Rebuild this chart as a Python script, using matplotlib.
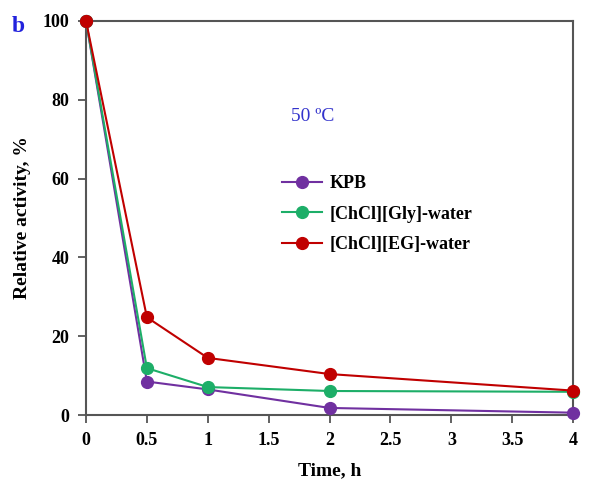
import matplotlib
matplotlib.use("Agg")
import matplotlib.pyplot as plt

# Data
time_h = [0, 0.5, 1, 2, 4]
kpb = [100, 8.5, 6.5, 1.8, 0.6]
gly_water = [100, 11.9, 7.1, 6.1, 5.9]
eg_water = [100, 24.8, 14.5, 10.4, 6.2]

labels = ["KPB", "[ChCl][Gly]-water", "[ChCl][EG]-water"]
colors = ["#7030A0", "#1DAE68", "#C00000"]
xticks = [0, 0.5, 1, 1.5, 2, 2.5, 3, 3.5, 4]
xticklabels = ["0", "0.5", "1", "1.5", "2", "2.5", "3", "3.5", "4"]
yticks = [0, 20, 40, 60, 80, 100]

plt.rcParams["font.family"] = ["Liberation Serif", "DejaVu Serif"]

fig = plt.figure(figsize=(5.89, 4.86), dpi=100)
ax = fig.add_axes([0.146, 0.146, 0.827, 0.811])

for ys, lab, c in zip([kpb, gly_water, eg_water], labels, colors):
    ax.plot(time_h, ys, "-o", color=c, lw=1.5, ms=8.5, label=lab, clip_on=False, zorder=3)

ax.set_xlim(0, 4)
ax.set_ylim(0, 100)
ax.set_xticks(xticks)
ax.set_xticklabels(xticklabels)
ax.set_yticks(yticks)
for sp in ax.spines.values():
    sp.set_color("#555555")
    sp.set_linewidth(1.5)
ax.tick_params(direction="out", length=6, width=1.3, color="#555555",
               labelsize=13, pad=6)
for t in ax.get_xticklabels() + ax.get_yticklabels():
    t.set_fontweight("bold")

ax.set_xlabel("Time, h", fontsize=14, fontweight="bold", labelpad=10)
ax.set_ylabel("Relative activity, %", fontsize=14, fontweight="bold", labelpad=8)

ax.text(1.68, 74.5, "50 \u00baC", color="#3333CC", fontsize=14)
fig.text(0.02, 0.935, "b", color="#2222DD", fontsize=17, fontweight="bold")

leg = ax.legend(loc="upper left", bbox_to_anchor=(0.37, 0.65), frameon=False,
                prop={"weight": "bold", "size": 13}, handlelength=2.2,
                handletextpad=0.4, labelspacing=0.75)

fig.savefig("out.png", dpi=100)
